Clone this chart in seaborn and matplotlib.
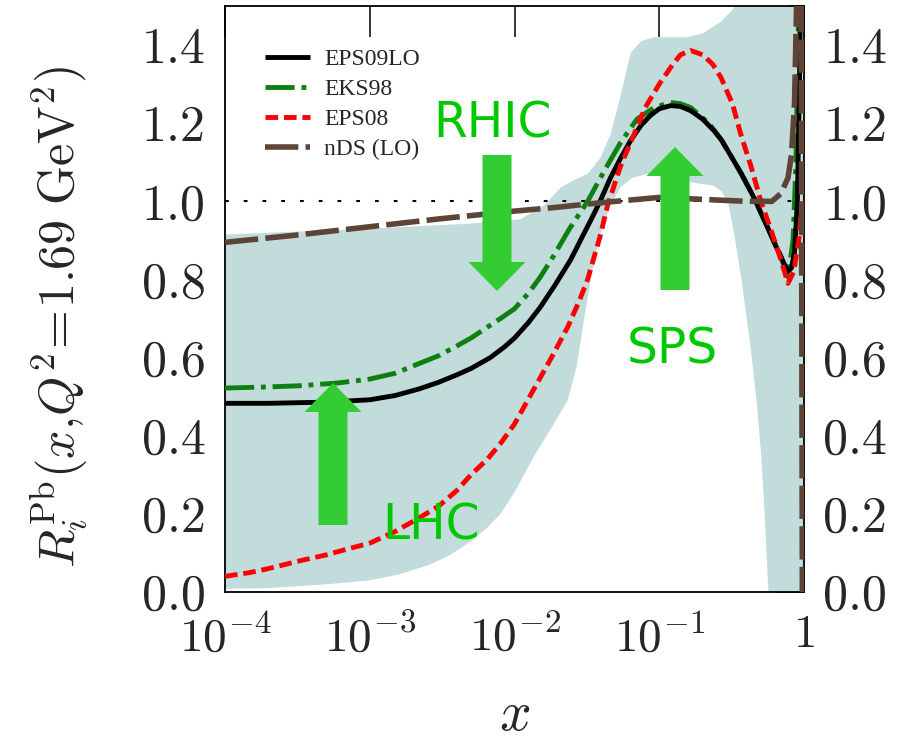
import numpy as np
import matplotlib
matplotlib.use("Agg")
import matplotlib.pyplot as plt
from matplotlib.patches import FancyArrow
from matplotlib.ticker import MultipleLocator, NullLocator
import seaborn as sns

# ---------------- data ----------------
x_eps09 = [1e-4, 2e-4, 5e-4, 1e-3, 1.5e-3, 2.2e-3, 3e-3, 4e-3, 5e-3, 6.8e-3, 8.5e-3,
           1e-2, 1.25e-2, 1.5e-2, 1.9e-2, 2.44e-2, 2.9e-2, 3.4e-2, 3.9e-2, 4.6e-2,
           5.4e-2, 6.35e-2, 7.5e-2, 8.7e-2, 0.1, 0.12, 0.14, 0.165, 0.2, 0.24, 0.27,
           0.32, 0.37, 0.45, 0.55, 0.63, 0.69, 0.74, 0.775, 0.82, 0.86, 0.9, 0.93, 0.95]
y_eps09 = [0.483, 0.483, 0.486, 0.492, 0.503, 0.52, 0.537, 0.556, 0.572, 0.60, 0.627,
           0.65, 0.69, 0.728, 0.785, 0.85, 0.905, 0.955, 1.0, 1.06,
           1.11, 1.156, 1.195, 1.22, 1.237, 1.245, 1.243, 1.232, 1.21, 1.18, 1.156,
           1.11, 1.07, 1.01, 0.94, 0.89, 0.86, 0.835, 0.82, 0.83, 0.87, 1.0, 1.3, 1.6]

x_eks98 = [1e-4, 2e-4, 3.3e-4, 6e-4, 1e-3, 1.5e-3, 2.2e-3, 3e-3, 4e-3, 5e-3, 6.5e-3,
           8e-3, 1e-2, 1.25e-2, 1.5e-2, 1.86e-2, 2.4e-2, 3.2e-2, 4.2e-2, 5.4e-2, 7e-2,
           9.2e-2, 0.12, 0.14, 0.165, 0.22, 0.27, 0.37, 0.45, 0.55, 0.69, 0.775, 0.84,
           0.88, 0.91, 0.93]
y_eks98 = [0.522, 0.525, 0.528, 0.535, 0.545, 0.56, 0.585, 0.605, 0.63, 0.65, 0.678,
           0.70, 0.725, 0.765, 0.805, 0.86, 0.93, 1.0, 1.08, 1.15, 1.21,
           1.24, 1.253, 1.25, 1.24, 1.20, 1.156, 1.07, 1.01, 0.94, 0.86, 0.806, 0.9,
           1.1, 1.4, 1.7]

x_eps08 = [1e-4, 1.5e-4, 2e-4, 3.3e-4, 5e-4, 7e-4, 1e-3, 1.5e-3, 2.2e-3, 3e-3, 4e-3,
           5e-3, 6.5e-3, 8e-3, 1e-2, 1.35e-2, 1.8e-2, 2.33e-2, 2.8e-2, 3.2e-2, 3.9e-2,
           4.4e-2, 5.4e-2, 6.5e-2, 8e-2, 0.1, 0.12, 0.14, 0.165, 0.2, 0.235, 0.267,
           0.32, 0.367, 0.43, 0.504, 0.6, 0.693, 0.775, 0.85, 0.92, 0.97]
y_eps08 = [0.04, 0.05, 0.06, 0.08, 0.095, 0.11, 0.125, 0.155, 0.19, 0.22, 0.26,
           0.30, 0.34, 0.38, 0.43, 0.517, 0.60, 0.678, 0.745, 0.80, 0.91,
           0.99, 1.09, 1.16, 1.24, 1.30, 1.343, 1.375, 1.386, 1.375, 1.35, 1.317,
           1.25, 1.17, 1.09, 1.0, 0.92, 0.85, 0.79, 0.82, 0.9, 1.0]

x_nds = [1e-4, 3e-4, 1e-3, 3e-3, 1e-2, 2e-2, 3e-2, 5e-2, 0.1, 0.2, 0.4, 0.6, 0.693,
         0.775, 0.82, 0.86, 0.9, 0.955, 0.975]
y_nds = [0.895, 0.913, 0.935, 0.955, 0.975, 0.985, 0.992, 1.0, 1.01, 1.005, 1.0, 1.0,
         1.02, 1.06, 1.12, 1.25, 1.6, 1.6, -0.1]

x_band_lo = [1e-4, 2e-4, 3.3e-4, 6e-4, 1e-3, 1.6e-3, 2.6e-3, 3.6e-3, 5e-3, 6.5e-3,
             8e-3, 1e-2, 1.35e-2, 1.8e-2, 2.33e-2, 2.7e-2, 3.0e-2, 3.4e-2, 3.94e-2,
             4.6e-2, 5.4e-2, 6.5e-2, 8.3e-2, 0.11, 0.157, 0.238, 0.27, 0.298, 0.328,
             0.37, 0.43, 0.47, 0.504, 0.535, 0.564, 0.6, 1.0]
y_band_lo = [0.008, 0.01, 0.015, 0.022, 0.03, 0.045, 0.07, 0.095, 0.13, 0.165,
             0.2, 0.255, 0.345, 0.42, 0.49, 0.58, 0.69, 0.81, 0.92,
             0.99, 1.036, 1.06, 1.07, 1.065, 1.05, 1.04, 1.025, 1.0, 0.92,
             0.80, 0.62, 0.49, 0.36, 0.2, 0.02, -0.1, -0.1]
x_band_hi = [1e-4, 1e-3, 5e-3, 1.1e-2, 1.6e-2, 2.1e-2, 2.6e-2, 3.2e-2, 3.9e-2, 4.6e-2,
             5.4e-2, 6.35e-2, 7.5e-2, 9.2e-2, 0.157, 0.2, 0.267, 0.32, 0.367, 1.0]
y_band_hi = [0.915, 0.93, 0.943, 0.954, 0.99, 1.036, 1.055, 1.07, 1.11, 1.17,
             1.27, 1.38, 1.41, 1.42, 1.42, 1.43, 1.46, 1.49, 1.52, 1.6]

series_labels = ["EPS09LO", "EKS98", "EPS08", "nDS (LO)"]
x_ticks = [1e-4, 1e-3, 1e-2, 1e-1, 1.0]
x_tick_labels = [r"$10^{-4}$", r"$10^{-3}$", r"$10^{-2}$", r"$10^{-1}$", r"$1$"]
y_ticks = [0.0, 0.2, 0.4, 0.6, 0.8, 1.0, 1.2, 1.4]
y_tick_labels = ["0.0", "0.2", "0.4", "0.6", "0.8", "1.0", "1.2", "1.4"]

# ---------------- style ----------------
sns.set_style("white")
plt.rcParams["font.family"] = ["cmr10", "DejaVu Serif"]
plt.rcParams["mathtext.fontset"] = "cm"
plt.rcParams["axes.formatter.use_mathtext"] = True
plt.rcParams["axes.unicode_minus"] = False

W, H = 903, 742
fig = plt.figure(figsize=(W / 100, H / 100), dpi=100)
ax = fig.add_axes([225 / W, 1 - 592 / H, (804 - 225) / W, (592 - 6) / H])
ax.set_xscale("log")

# uncertainty band
band_x = np.concatenate([x_band_lo, x_band_hi[::-1]])
band_y = np.concatenate([y_band_lo, y_band_hi[::-1]])
ax.fill(band_x, band_y, color="#c2dbdb", lw=0, zorder=1)

ax.axhline(1.0, color="black", lw=1.5, dashes=(1.8, 7.2), zorder=2)

def draw(x, y, color, lw, label, dashes, z):
    sns.lineplot(x=x, y=y, ax=ax, color=color, linewidth=lw, label=label,
                 sort=False, errorbar=None, zorder=z)
    line = ax.lines[-1]
    if dashes is not None:
        line.set_dashes(dashes)
    line.set_solid_capstyle("butt")
    return line

draw(x_eks98, y_eks98, "#0f800f", 3.5, series_labels[1], (6.0, 1.4, 1.0, 1.4), 3)
draw(x_eps09, y_eps09, "black", 3.5, series_labels[0], None, 4)
draw(x_eps08, y_eps08, "#ff0000", 3.5, series_labels[2], (2.6, 1.2), 5)
draw(x_nds, y_nds, "#5e4436", 4.0, series_labels[3], (6.0, 1.3), 6)

ax.set_xlim(1e-4, 1.0)
ax.set_ylim(0.0, 1.5)
ax.set_xticks(x_ticks)
ax.set_xticklabels(x_tick_labels)
ax.xaxis.set_minor_locator(NullLocator())
ax.set_yticks(y_ticks)
ax.set_yticklabels(y_tick_labels)
ax.yaxis.set_minor_locator(MultipleLocator(0.1))

ax.tick_params(axis="both", which="both", direction="in", top=True, right=True,
               labelright=True, color="black")
ax.tick_params(axis="y", which="major", length=21, width=1.1, labelsize=36, pad=14)
ax.tick_params(axis="y", which="minor", length=11, width=1.1)
ax.tick_params(axis="x", which="major", length=22, width=1.1, labelsize=34, pad=16)
for s in ax.spines.values():
    s.set_color("black")
    s.set_linewidth(1.3)

ax.set_xlabel(r"$x$", fontsize=40)
ax.xaxis.set_label_coords(0.50, -0.17)
ax.set_ylabel(r"$R_i^{\rm Pb}(x{,}Q^2\!=\!1.69\ {\rm GeV}^2)$", fontsize=36)
ax.yaxis.set_label_coords(-0.235, 0.47)

# legend
handles, labels = ax.get_legend_handles_labels()
order = [labels.index(l) for l in series_labels]
ax.legend([handles[i] for i in order], [labels[i] for i in order],
          loc="upper left", bbox_to_anchor=(0.069, 0.927), frameon=False,
          prop={"family": "Liberation Serif", "size": 17}, handlelength=1.9,
          handletextpad=0.6, labelspacing=0.36, borderpad=0, borderaxespad=0)

# annotations (pixel positions converted to figure fractions)
arrow_color = "#33cc33"
text_color = "#00c800"

def vert_arrow(px, py_tail, py_tip):
    fa = FancyArrow(px / W, 1 - py_tail / H, 0, -(py_tip - py_tail) / H,
                    width=29 / W, head_width=57 / W, head_length=29 / H,
                    length_includes_head=True, transform=fig.transFigure,
                    color=arrow_color, lw=0, zorder=10)
    fig.add_artist(fa)

vert_arrow(497, 155, 291)   # RHIC, pointing down
vert_arrow(333, 525, 383)   # LHC, pointing up
vert_arrow(675, 290, 147)   # SPS, pointing up

for txt, px, py in [("RHIC", 493, 137), ("SPS", 672, 364), ("LHC", 431, 540)]:
    fig.text(px / W, 1 - py / H, txt, ha="center", va="baseline", fontsize=35,
             color=text_color, family="DejaVu Sans", zorder=11)

fig.savefig("out.png", dpi=100)
